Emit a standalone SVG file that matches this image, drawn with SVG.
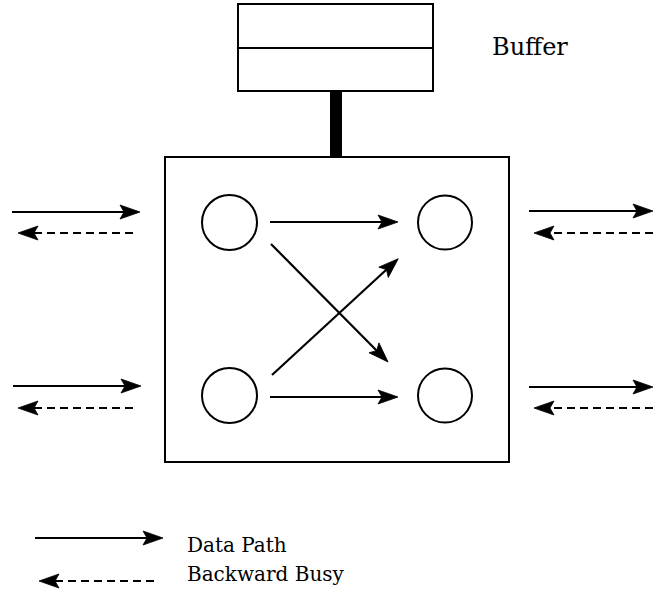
<svg xmlns="http://www.w3.org/2000/svg" width="653" height="598" viewBox="0 0 653 598">
  <style>
    .box { fill: none; stroke: #000; stroke-width: 2; }
    .node { fill: #fff; stroke: #000; stroke-width: 2; }
    .data { stroke: #000; stroke-width: 2.2; fill: none; marker-end: url(#head); }
    .busy { stroke: #000; stroke-width: 2.2; fill: none; stroke-dasharray: 8 5; marker-end: url(#head); }
    .label { font-family: "DejaVu Serif", "Liberation Serif", serif; fill: #000; }
  </style>
  <defs>
    <marker id="head" markerUnits="userSpaceOnUse" markerWidth="22" markerHeight="16" refX="10" refY="7" orient="auto" overflow="visible">
      <path d="M0,0 L20,7 L0,14 L4,7 Z" fill="#000" stroke="#000" stroke-width="0.8" stroke-linejoin="miter"/>
    </marker>
  </defs>
  <rect width="653" height="598" fill="#fff"/>

  <!-- buffer with its link to the switch -->
  <g id="buffer">
    <rect class="box" x="238" y="4" width="195" height="87"/>
    <line x1="238" y1="48" x2="433" y2="48" stroke="#000" stroke-width="2"/>
    <rect x="330" y="91" width="12" height="66" fill="#000"/>
    <text class="label" x="492" y="55" font-size="24">Buffer</text>
  </g>

  <!-- switch element -->
  <g id="switch">
    <rect class="box" x="165" y="157" width="344" height="305"/>
  </g>

  <g id="in-top"><circle class="node" cx="229.5" cy="222.5" r="27.5"/></g>
  <g id="in-bottom"><circle class="node" cx="229.5" cy="395.5" r="27.5"/></g>
  <g id="out-top"><circle class="node" cx="445" cy="222.5" r="27"/></g>
  <g id="out-bottom"><circle class="node" cx="445" cy="395.5" r="27"/></g>

  <g id="connectors">
    <!-- internal paths -->
    <line class="data" x1="270" y1="222" x2="388" y2="222"/>
    <line class="data" x1="270" y1="397" x2="388" y2="397"/>
    <line class="data" x1="271" y1="244" x2="381" y2="354.9"/>
    <line class="data" x1="272" y1="375" x2="390.9" y2="265.5"/>

    <!-- left ports -->
    <line class="data" x1="12" y1="212" x2="130" y2="212"/>
    <line class="busy" x1="133" y1="233" x2="28" y2="233"/>
    <line class="data" x1="13" y1="386" x2="131" y2="386"/>
    <line class="busy" x1="133" y1="408" x2="28" y2="408"/>

    <!-- right ports -->
    <line class="data" x1="529" y1="211" x2="643" y2="211"/>
    <line class="busy" x1="653" y1="233" x2="544" y2="233"/>
    <line class="data" x1="529" y1="387" x2="643" y2="387"/>
    <line class="busy" x1="653" y1="408" x2="544" y2="408"/>
  </g>

  <!-- legend -->
  <g id="legend">
    <line class="data" x1="35" y1="538" x2="153" y2="538"/>
    <text class="label" x="187" y="552" font-size="20">Data Path</text>
    <line class="busy" x1="154" y1="581" x2="49" y2="581"/>
    <text class="label" x="187" y="581" font-size="20">Backward Busy</text>
  </g>
</svg>
